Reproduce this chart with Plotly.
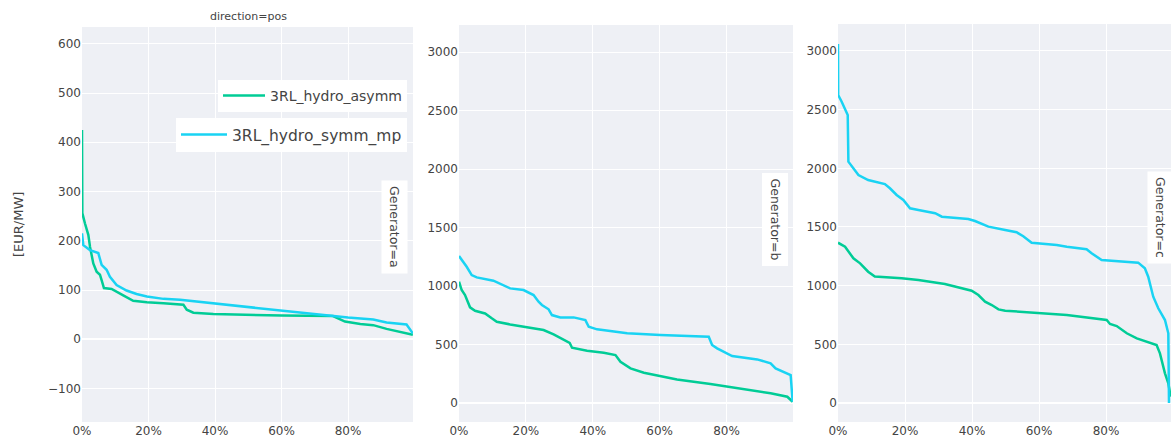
import plotly.graph_objects as go

W, H = 1171, 443

# ---------------- data ----------------
series_names = ["3RL_hydro_asymm", "3RL_hydro_symm_mp"]
generators = ["a", "b", "c"]

# Generator a
a_asymm_x = [0, 0.001, 0.009, 0.019, 0.024, 0.034, 0.044, 0.054, 0.059, 0.066, 0.089, 0.104,
             0.124, 0.154, 0.195, 0.245, 0.305, 0.315, 0.335, 0.395, 0.495, 0.60, 0.755, 0.791,
             0.837, 0.876, 0.916, 0.956, 0.995]
a_asymm_y = [425, 256, 235, 212, 188, 154, 137, 131, 120, 104, 102, 97,
             89, 78, 75, 73, 70, 60, 54, 51.5, 49.5, 48, 47, 36,
             31, 28.6, 21, 15.6, 9]
a_symm_x = [0, 0.004, 0.024, 0.049, 0.059, 0.074, 0.084, 0.104, 0.134, 0.164, 0.195, 0.245,
            0.295, 0.345, 0.395, 0.495, 0.60, 0.76, 0.80, 0.876, 0.916, 0.976, 0.995]
a_symm_y = [215, 191, 181, 175, 151, 141, 127, 110, 99, 92, 87, 82,
            80, 76.5, 73, 65, 58, 46, 44, 40, 34, 30, 12]

# Generator b
b_asymm_x = [0, 0.008, 0.018, 0.033, 0.048, 0.078, 0.098, 0.113, 0.153, 0.203, 0.253, 0.283,
             0.313, 0.331, 0.338, 0.383, 0.433, 0.468, 0.483, 0.513, 0.553, 0.652, 0.752,
             0.852, 0.932, 0.982, 0.998]
b_asymm_y = [1037, 966, 923, 818, 789, 766, 724, 695, 672, 647, 624, 587,
             538, 515, 473, 447, 430, 410, 353, 296, 259, 202, 162,
             120, 83, 54, 11]
b_symm_x = [0, 0.013, 0.023, 0.038, 0.053, 0.103, 0.153, 0.193, 0.223, 0.238, 0.248, 0.268,
            0.278, 0.303, 0.343, 0.378, 0.388, 0.413, 0.503, 0.602, 0.747, 0.757, 0.772,
            0.817, 0.892, 0.932, 0.947, 0.992, 0.998]
b_symm_y = [1256, 1208, 1165, 1094, 1074, 1046, 980, 966, 923, 866, 838, 801,
            752, 732, 732, 709, 652, 630, 596, 581, 567, 496, 467,
            402, 373, 339, 296, 239, 11]

# Generator c
c_asymm_x = [0, 0.021, 0.046, 0.066, 0.090, 0.110, 0.190, 0.240, 0.319, 0.349, 0.399, 0.419,
             0.439, 0.459, 0.479, 0.499, 0.553, 0.683, 0.802, 0.812, 0.832, 0.862, 0.892,
             0.951, 0.961, 0.976, 0.986, 0.993]
c_asymm_y = [1366, 1332, 1233, 1190, 1119, 1077, 1063, 1048, 1014, 991, 957, 920,
             864, 835, 798, 787, 778, 750, 707, 673, 656, 594, 551,
             494, 423, 253, 168, 54]
c_symm_x = [0, 0.0005, 0.011, 0.026, 0.029, 0.031, 0.046, 0.061, 0.090, 0.140, 0.155, 0.175,
            0.195, 0.215, 0.240, 0.290, 0.310, 0.389, 0.409, 0.449, 0.499, 0.533, 0.553,
            0.578, 0.653, 0.683, 0.742, 0.757, 0.787, 0.852, 0.896, 0.916, 0.926, 0.941,
            0.956, 0.976, 0.986, 0.988]
c_symm_y = [3060, 2625, 2568, 2483, 2455, 2057, 2000, 1943, 1900, 1866, 1830, 1773,
            1730, 1659, 1645, 1617, 1588, 1568, 1551, 1503, 1474, 1455, 1421,
            1366, 1347, 1332, 1310, 1276, 1219, 1204, 1196, 1148, 1076, 906,
            807, 707, 594, 0]

# ---------------- style ----------------
GREEN = "#00CC96"
CYAN = "#19D3F3"
BG = "#EEF0F5"
TXT = "#444444"
FONT = "DejaVu Sans"

def px_x(p):
    return p / W

def px_y(p):
    return 1 - p / H

panels = [
    dict(x0=82, x1=413, top=27, bottom=422, xr=[0, 0.9955], yr=[-168, 634], dt=100),
    dict(x0=459, x1=793, top=25, bottom=422, xr=[0, 0.999], yr=[-162, 3231], dt=500),
    dict(x0=838, x1=1171, top=24, bottom=422, xr=[0, 0.994], yr=[-162, 3230], dt=500),
]

data = [
    (a_asymm_x, a_asymm_y, a_symm_x, a_symm_y),
    (b_asymm_x, b_asymm_y, b_symm_x, b_symm_y),
    (c_asymm_x, c_asymm_y, c_symm_x, c_symm_y),
]

fig = go.Figure()
layout_axes = {}
for i, (p, d) in enumerate(zip(panels, data)):
    n = "" if i == 0 else str(i + 1)
    xa, ya = "x" + n, "y" + n
    fig.add_trace(go.Scatter(x=d[0], y=d[1], mode="lines", name=series_names[0],
                             line=dict(color=GREEN, width=2.5), xaxis=xa, yaxis=ya,
                             showlegend=(i == 0), legend="legend", legendgroup="asymm"))
    fig.add_trace(go.Scatter(x=d[2], y=d[3], mode="lines", name=series_names[1],
                             line=dict(color=CYAN, width=2.5), xaxis=xa, yaxis=ya,
                             showlegend=(i == 0), legend="legend2", legendgroup="symm"))
    layout_axes["xaxis" + n] = dict(
        domain=[px_x(p["x0"]), px_x(p["x1"])], range=p["xr"], anchor=ya,
        tickformat=".0%", dtick=0.2, tick0=0, showgrid=True, gridcolor="white", gridwidth=1,
        zeroline=False, showline=False, ticks="", automargin=False,
        tickfont=dict(size=12, color=TXT, family=FONT))
    layout_axes["yaxis" + n] = dict(
        domain=[px_y(p["bottom"]), px_y(p["top"])], range=p["yr"], anchor=xa,
        dtick=p["dt"], tick0=0, showgrid=True, gridcolor="white", gridwidth=1,
        zeroline=True, zerolinecolor="white", zerolinewidth=2, showline=False, ticks="",
        automargin=False, tickfont=dict(size=12, color=TXT, family=FONT))

annotations = [
    dict(text="direction=pos", x=px_x(248), y=px_y(17), xref="paper", yref="paper",
         showarrow=False, font=dict(size=11, color=TXT, family=FONT),
         xanchor="center", yanchor="middle"),
    dict(text="[EUR/MW]", x=px_x(18), y=px_y(225), xref="paper", yref="paper",
         showarrow=False, textangle=-90, font=dict(size=13, color=TXT, family=FONT),
         xanchor="center", yanchor="middle"),
]
gen_pos = [(394.5, 226.5), (775, 219.5), (1160.5, 217.5)]
for g, (gx, gy) in zip(generators, gen_pos):
    annotations.append(dict(text="Generator=" + g, x=px_x(gx), y=px_y(gy),
                            xref="paper", yref="paper", showarrow=False, textangle=90,
                            font=dict(size=12.5, color=TXT, family=FONT),
                            bgcolor="white", borderpad=5,
                            xanchor="center", yanchor="middle"))

fig.update_layout(
    width=W, height=H, autosize=False,
    margin=dict(l=0, r=0, t=0, b=0),
    paper_bgcolor="white", plot_bgcolor=BG,
    font=dict(family=FONT, color=TXT),
    legend=dict(x=px_x(407), y=px_y(80), bgcolor="white", borderwidth=0,
                xanchor="right", yanchor="top", itemwidth=42,
                font=dict(size=14, color=TXT, family=FONT)),
    legend2=dict(x=px_x(407), y=px_y(118), bgcolor="white", borderwidth=0,
                 xanchor="right", yanchor="top", itemwidth=46,
                 font=dict(size=15.5, color=TXT, family=FONT)),
    annotations=annotations,
    **layout_axes,
)

fig.write_html("out.html", config={"displayModeBar": False},
               post_script="document.body.style.margin='0';")
